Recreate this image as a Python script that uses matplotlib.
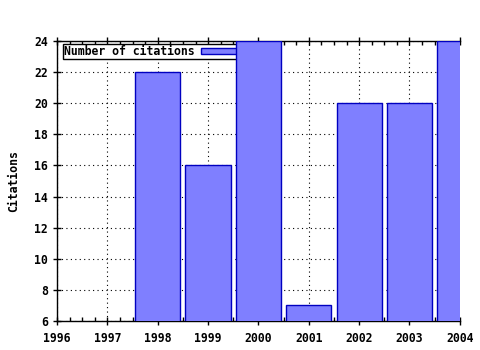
import matplotlib
matplotlib.use('Agg')
import matplotlib.pyplot as plt
from matplotlib.ticker import MultipleLocator

# data
years = [1998, 1999, 2000, 2001, 2002, 2003, 2004]
citations = [22, 16, 24, 7, 20, 20, 24]
year_ticks = [1996, 1997, 1998, 1999, 2000, 2001, 2002, 2003, 2004]
cite_ticks = [6, 8, 10, 12, 14, 16, 18, 20, 22, 24]

plt.rcParams['font.family'] = 'DejaVu Sans Mono'
plt.rcParams['font.weight'] = 'bold'
plt.rcParams['font.size'] = 8.3

fig = plt.figure(figsize=(4.8, 3.5), dpi=100)
ax = fig.add_axes([0.119, 0.083, 0.839, 0.8])

ax.bar(years, citations, width=0.9, bottom=0, color='#7f7fff',
       edgecolor='#0000c0', linewidth=1.0, zorder=3,
       label='Number of citations')

ax.set_xlim(1996, 2004)
ax.set_ylim(6, 24)
ax.set_xticks(year_ticks)
ax.set_yticks(cite_ticks)
ax.xaxis.set_minor_locator(MultipleLocator(0.25))

ax.grid(True, which='major', color='black', linestyle=(0, (1, 3)), linewidth=0.8, zorder=0)
ax.set_axisbelow(True)

ax.spines['right'].set_visible(False)
for s in ['left', 'bottom', 'top']:
    ax.spines[s].set_linewidth(1.0)

ax.tick_params(axis='both', which='major', direction='inout', length=6, width=1, labelsize=8.3)
ax.tick_params(axis='x', which='minor', direction='in', length=3, width=1, top=True)
ax.tick_params(axis='x', which='major', top=True)
ax.tick_params(axis='x', pad=5)

ax.set_ylabel('Citations', fontsize=8.3, fontweight='bold', labelpad=10)

leg = ax.legend(loc='upper left', bbox_to_anchor=(0.014, 0.99), frameon=True, fancybox=False,
                edgecolor='black', framealpha=1, borderpad=0.1, handlelength=4.5,
                handleheight=0.4, borderaxespad=0.0, handletextpad=0.6, fontsize=8.3,
                markerfirst=False)
leg.get_frame().set_linewidth(1.0)
leg.set_zorder(2)

fig.savefig('out.png', dpi=100, facecolor='white')
